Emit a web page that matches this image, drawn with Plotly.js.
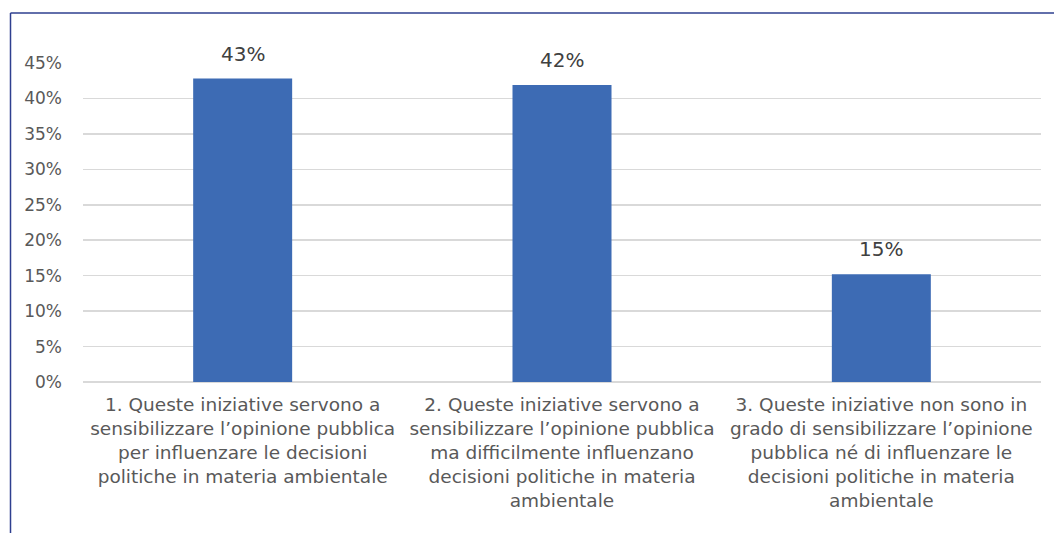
<!DOCTYPE html>
<html>
<head>
<meta charset="utf-8">
<script src="https://cdn.plot.ly/plotly-3.0.1.min.js"></script>
<style>html,body{margin:0;padding:0;background:#fff;} #chart{width:1054px;height:533px;}</style>
</head>
<body>
<div id="chart"></div>
<script>
const categories = [
  "1. Queste iniziative servono a<br>sensibilizzare l’opinione pubblica<br>per influenzare le decisioni<br>politiche in materia ambientale",
  "2. Queste iniziative servono a<br>sensibilizzare l’opinione pubblica<br>ma difficilmente influenzano<br>decisioni politiche in materia<br>ambientale",
  "3. Queste iniziative non sono in<br>grado di sensibilizzare l’opinione<br>pubblica né di influenzare le<br>decisioni politiche in materia<br>ambientale"
];
const values = [0.428, 0.419, 0.152];
const valueLabels = ["43%", "42%", "15%"];
const tickVals = [0, 0.05, 0.10, 0.15, 0.20, 0.25, 0.30, 0.35, 0.40, 0.45];
const tickLabels = ["0%", "5%", "10%", "15%", "20%", "25%", "30%", "35%", "40%", "45%"];

const W = 1054, H = 533;
const m = {l: 83, r: 13, t: 63, b: 151};
const pw = W - m.l - m.r, ph = H - m.t - m.b;
const px = v => (v - m.l) / pw;
const py = v => (H - m.b - v) / ph;

const font = "DejaVu Sans, sans-serif";
const xs = [0, 1, 2];

const trace = {
  type: 'bar',
  x: xs,
  y: values,
  marker: {color: '#3D6BB4'},
  hoverinfo: 'none'
};

const annotations = values.map((v, i) => ({
  x: xs[i], y: v, xref: 'x', yref: 'y',
  text: valueLabels[i], showarrow: false,
  yanchor: 'bottom', yshift: 11,
  font: {family: font, size: 20, color: '#404040'}
}));

const layout = {
  width: W, height: H,
  margin: m,
  paper_bgcolor: '#ffffff',
  plot_bgcolor: '#ffffff',
  bargap: 0.69,
  showlegend: false,
  xaxis: {
    tickmode: 'array', tickvals: xs, ticktext: categories,
    range: [-0.5, 2.5],
    showgrid: false, zeroline: false, showline: false, ticks: '',
    ticklabelstandoff: 9,
    tickfont: {family: font, size: 18.5, color: '#595959'}
  },
  yaxis: {
    range: [0, 0.45],
    tickmode: 'array', tickvals: tickVals, ticktext: tickLabels,
    showgrid: true, gridcolor: '#D9D9D9', gridwidth: 1.5,
    zeroline: true, zerolinecolor: '#D9D9D9', zerolinewidth: 1.5,
    showline: false, ticks: '',
    ticklabelstandoff: 20,
    tickfont: {family: font, size: 17, color: '#595959'}
  },
  annotations: annotations,
  shapes: [
    {type: 'line', xref: 'paper', yref: 'paper', x0: px(10.5), x1: px(10.5), y0: py(13), y1: py(533), line: {color: '#2E3F8F', width: 1.5}},
    {type: 'line', xref: 'paper', yref: 'paper', x0: px(10.5), x1: px(1054), y0: py(13), y1: py(13), line: {color: '#2E3F8F', width: 1.5}}
  ]
};

Plotly.newPlot('chart', [trace], layout, {displayModeBar: false, staticPlot: true});
</script>
</body>
</html>
